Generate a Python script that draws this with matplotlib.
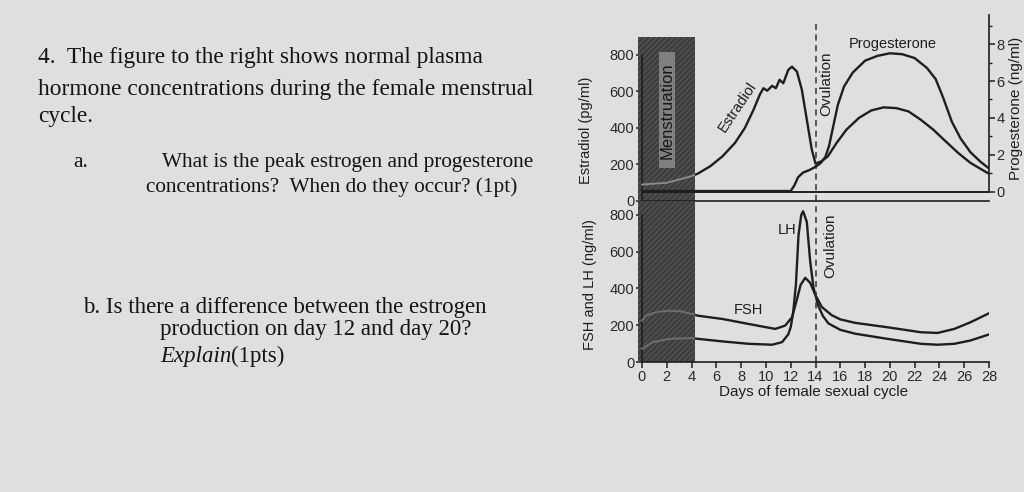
import matplotlib
matplotlib.use("Agg")
import matplotlib.pyplot as plt
from matplotlib.patches import Rectangle
from matplotlib.ticker import FixedLocator

plt.rcParams['font.family'] = ['Liberation Sans', 'DejaVu Sans']
plt.rcParams['hatch.linewidth'] = 0.7

# top panel: estradiol (pg/ml, left axis) and progesterone (ng/ml, right axis)
estradiol_days = [0, 2, 4, 4.5, 5.5, 6.5, 7.5, 8.3, 9, 9.5,
                  9.8, 10.1, 10.5, 10.8, 11.1, 11.4, 11.8, 12.1, 12.5, 12.9,
                  13.3, 13.7, 14, 14.5, 15, 15.7, 16.5, 17.5, 18.5, 19.5,
                  20.5, 21.5, 22.5, 23.5, 24.5, 25.5, 26.5, 27.5, 28]
estradiol = [90, 100, 136, 150, 190, 245, 318, 400, 500, 582,
             618, 604, 631, 618, 664, 645, 718, 736, 709, 609,
             445, 282, 205, 218, 245, 318, 391, 455, 496, 513,
             509, 491, 445, 391, 327, 264, 209, 169, 149]

progesterone_days = [0, 12, 12.3, 12.6, 13, 13.5, 14, 14.4, 14.8, 15.1,
                     15.4, 15.8, 16.3, 17, 18, 19, 20, 21, 22, 23,
                     23.7, 24.3, 25, 25.7, 26.5, 27.3, 28]
progesterone = [0.05, 0.05, 0.36, 0.8, 1.05, 1.18, 1.36, 1.55, 1.9, 2.5,
                3.45, 4.7, 5.7, 6.45, 7.1, 7.36, 7.5, 7.45, 7.24, 6.7,
                6.1, 5.1, 3.8, 2.9, 2.15, 1.64, 1.27]

# bottom panel: FSH and LH (ng/ml)
fsh_days = [0, 0.3, 1.2, 2.2, 3.2, 4.06, 4.5, 6.5, 8.6, 10.75, 11.55, 12.1,
            12.5, 12.8, 13.17, 13.57, 13.97, 14.5, 15.3, 16, 17.2, 19.8,
            22.5, 23.85, 25.2, 26.5, 28]
fsh = [225, 252, 272, 279, 275, 261, 252, 234, 207, 180, 198, 243,
       340, 420, 458, 431, 368, 300, 255, 232, 213, 189,
       162, 158, 180, 216, 265]

lh_days = [0, 0.86, 2.2, 4.06, 4.5, 6.5, 8.6, 10.5, 11.3, 11.8, 12.0, 12.2,
           12.42, 12.63, 12.85, 13.0, 13.3, 13.57, 13.84, 14.2, 14.6, 15.04,
           16, 17.2, 19.8, 22.5, 23.85, 25.2, 26.5, 28]
lh = [72, 108, 126, 130, 126, 112, 99, 94, 108, 150, 190, 270,
      422, 691, 800, 820, 762, 548, 404, 310, 250, 210,
      175, 154, 126, 99, 94, 99, 117, 150]

menses = (-0.3, 4.3)
ovulation_day = 14

bg = '#dfdfdf'
ink = '#1e1e1e'
W, H = 1024, 492

fig = plt.figure(figsize=(10.24, 4.92), dpi=100, facecolor=bg)


def fx(px):
    return px / W


def fy(py):
    return 1 - py / H


ax_l, ax_r = 642, 989
ax_top = fig.add_axes([fx(ax_l), fy(201), fx(ax_r - ax_l), (201 - 15) / H])
ax_bot = fig.add_axes([fx(ax_l), fy(362), fx(ax_r - ax_l), (362 - 201) / H])
for a in (ax_top, ax_bot):
    a.set_facecolor('none')
    a.set_xlim(0, 28)

ax_top.set_ylim(0, 1019)
ax_bot.set_ylim(0, 876)

# curves
ax_top.plot(estradiol_days, estradiol, color=ink, lw=1.7, zorder=1)
ax2 = ax_top.twinx()
ax2.set_ylim(-0.49, 9.57)
ax2.plot(progesterone_days, progesterone, color=ink, lw=1.7, zorder=1)
ax2.axhline(0, color=ink, lw=1.4, zorder=4)
ax_bot.plot(fsh_days, fsh, color=ink, lw=1.7, zorder=1)
ax_bot.plot(lh_days, lh, color=ink, lw=1.7, zorder=1)

# menstruation bar
bars = []
for a, top in ((ax_top, 898), (ax_bot, 876)):
    r = Rectangle((menses[0], 0), menses[1] - menses[0], top, facecolor='#3e3e3e',
                  edgecolor='#5a5a5a', hatch='//////', lw=0, zorder=2, clip_on=False)
    a.add_patch(r)
    bars.append(r)

# curves seen through the bar
ln, = ax_top.plot(estradiol_days, estradiol, color='#8a8a8a', lw=1.4, zorder=3)
ln.set_clip_path(bars[0])
for d, v in ((fsh_days, fsh), (lh_days, lh)):
    ln, = ax_bot.plot(d, v, color='#6e6e6e', lw=1.4, zorder=3)
    ln.set_clip_path(bars[1])

ax_top.add_patch(Rectangle((1.37, 181), 1.29, 635, facecolor='#808080',
                           edgecolor='none', zorder=4, clip_on=False))
ax_top.text(2.02, 493, 'Menstruation', rotation=90, ha='center', va='center',
            fontsize=12, color='#161616', zorder=5)

# ovulation
ax_top.axvline(ovulation_day, ymin=0, ymax=0.97, color='#333333', lw=1.1,
               ls=(0, (4, 3)), zorder=1)
ax_bot.axvline(ovulation_day, color='#333333', lw=1.1, ls=(0, (4, 3)), zorder=1)
ax_top.text(14.9, 645, 'Ovulation', rotation=90, ha='center', va='center',
            fontsize=11, color=ink)
ax_bot.text(15.2, 630, 'Ovulation', rotation=90, ha='center', va='center',
            fontsize=11, color=ink)

# curve labels
ax_top.text(7.7, 515, 'Estradiol', rotation=56, ha='center', va='center',
            fontsize=10.5, color=ink)
ax2.text(20.2, 8.0, 'Progesterone', ha='center', va='center',
         fontsize=10.5, color=ink)
ax_bot.text(11.7, 720, 'LH', ha='center', va='center', fontsize=10.5, color=ink)
ax_bot.text(8.6, 285, 'FSH', ha='center', va='center', fontsize=10.5, color=ink)

# spines and ticks
for s in ('top', 'right'):
    ax_top.spines[s].set_visible(False)
    ax_bot.spines[s].set_visible(False)
for s in ('top', 'left', 'bottom'):
    ax2.spines[s].set_visible(False)
ax_top.spines['left'].set_bounds(0, 800)
ax_bot.spines['left'].set_bounds(0, 800)
ax2.spines['right'].set_bounds(0, 9.57)
for a in (ax_top, ax_bot, ax2):
    for s in a.spines.values():
        s.set_color(ink)
        s.set_linewidth(1.2)

ax_top.set_yticks(range(0, 801, 200))
ax_top.yaxis.set_minor_locator(FixedLocator([100, 300, 500, 700]))
ax_top.set_xticks([])
ax2.set_yticks(range(0, 9, 2))
ax2.yaxis.set_minor_locator(FixedLocator([1, 3, 5, 7, 9]))
ax2.set_ylim(-0.49, 9.57)
ax_bot.set_yticks(range(0, 801, 200))
ax_bot.set_xticks(range(0, 29, 2))

for a in (ax_top, ax_bot, ax2):
    a.tick_params(which='major', length=4, width=1.1, color=ink, labelsize=10.5,
                  labelcolor='#2a2a2a', pad=1.5)
    a.tick_params(which='minor', length=2.5, width=1.0, color=ink)
ax_bot.tick_params(axis='x', labelsize=10.5, pad=1.5)

ax_top.set_ylabel('Estradiol (pg/ml)', fontsize=10.5, color=ink)
ax_top.yaxis.set_label_coords(-0.141, 0.38)
ax_bot.set_ylabel('FSH and LH (ng/ml)', fontsize=10.5, color=ink)
ax_bot.yaxis.set_label_coords(-0.13, 0.478)
ax2.set_ylabel('Progesterone (ng/ml)', fontsize=11, color=ink, labelpad=3)
ax_bot.set_xlabel('Days of female sexual cycle', fontsize=11, color=ink)
ax_bot.xaxis.set_label_coords(0.493, -0.14)

# worksheet text
serif = ['Liberation Serif', 'DejaVu Serif']
tk = dict(family=serif, color='#141414', va='baseline', fontsize=16.8)
fig.text(fx(38), fy(63), '4.  The figure to the right shows normal plasma', **tk)
fig.text(fx(38), fy(95), 'hormone concentrations during the female menstrual', **tk)
fig.text(fx(38), fy(122), 'cycle.', **tk)
ta = dict(tk, fontsize=15.3)
fig.text(fx(73), fy(167), 'a.', **ta)
fig.text(fx(162), fy(167), 'What is the peak estrogen and progesterone', **ta)
fig.text(fx(146), fy(192), 'concentrations?  When do they occur? (1pt)', **ta)
tb = dict(tk, fontsize=16.5)
fig.text(fx(83), fy(313), 'b. Is there a difference between the estrogen', **tb)
fig.text(fx(160), fy(335), 'production on day 12 and day 20?', **tb)
t = fig.text(fx(160), fy(362), 'Explain', style='italic', **tb)
fig.canvas.draw()
bb = t.get_window_extent()
fig.text(bb.x1 / W, fy(362), '(1pts)', **tb)

fig.savefig('out.png', dpi=100, facecolor=bg)
